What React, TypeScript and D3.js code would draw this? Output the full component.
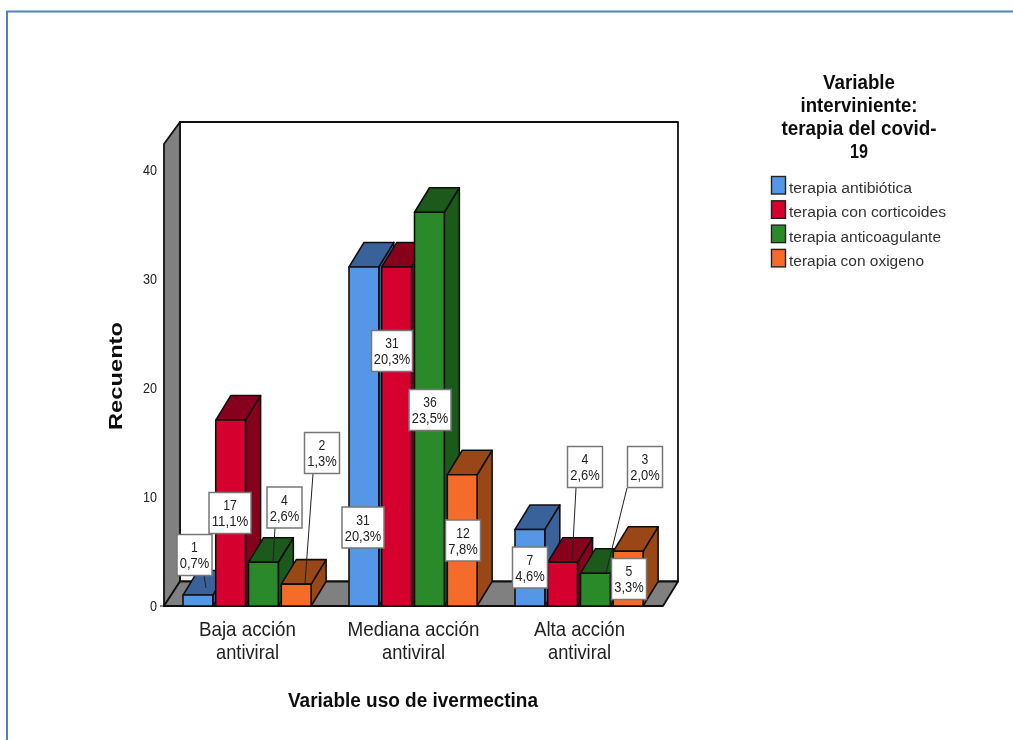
import React from "react";
import * as d3 from "d3";

const categories = ["Baja acción|antiviral", "Mediana acción|antiviral", "Alta acción|antiviral"];
const seriesNames = ["terapia antibiótica", "terapia con corticoides", "terapia anticoagulante", "terapia con oxigeno"];
const antibiotica = [1, 31, 7];
const corticoides = [17, 31, 4];
const anticoagulante = [4, 36, 3];
const oxigeno = [2, 12, 5];
const pctAntibiotica = ["0,7%", "20,3%", "4,6%"];
const pctCorticoides = ["11,1%", "20,3%", "2,6%"];
const pctAnticoagulante = ["2,6%", "23,5%", "2,0%"];
const pctOxigeno = ["1,3%", "7,8%", "3,3%"];
const yTicks = [0, 10, 20, 30, 40];
const legendTitle = ["Variable", "interviniente:", "terapia del covid-", "19"];

const seriesValues = [antibiotica, corticoides, anticoagulante, oxigeno];
const seriesPct = [pctAntibiotica, pctCorticoides, pctAnticoagulante, pctOxigeno];
const frontColors = ["#5596e6", "#d6002f", "#2a8a2c", "#f56c2a"];
const topColors = ["#386299", "#87001f", "#1a5a1c", "#994719"];
const sideColors = ["#386299", "#87001f", "#1a5a1c", "#994719"];

// label layout (annotation boxes placed by hand, as in the source chart)
type Lab = { cx: number; cy: number; w: number; leader?: [number, number, number, number] };
const labelLayout: Lab[][] = [
  [
    { cx: 194.5, cy: 555, w: 35, leader: [204, 575, 206, 588] },
    { cx: 230, cy: 513, w: 42 },
    { cx: 284.5, cy: 507.5, w: 35, leader: [275, 528, 273, 562] },
    { cx: 322, cy: 453, w: 35, leader: [313, 474, 305, 583] },
  ],
  [
    { cx: 363, cy: 527.5, w: 42 },
    { cx: 392, cy: 351, w: 41 },
    { cx: 430, cy: 410, w: 42 },
    { cx: 463, cy: 540.5, w: 35 },
  ],
  [
    { cx: 530, cy: 567.5, w: 35 },
    { cx: 585, cy: 467, w: 35, leader: [576, 488, 572, 562] },
    { cx: 645, cy: 467, w: 35, leader: [627, 488, 606, 573] },
    { cx: 629, cy: 579, w: 35 },
  ],
];

const W = 1013;
const H = 740;
const DX = 15;
const DY = 24.5;
const FONT = "'Liberation Sans', Arial, sans-serif";

const y = d3.scaleLinear().domain([0, 40]).range([606, 168.5]);
const yTick = d3.scaleLinear().domain([0, 40]).range([606, 170]);
const yTop = 144;
const x0 = d3.scaleBand<number>().domain([0, 1, 2]).range([164, 662]);
const x1 = d3.scaleBand<number>().domain([0, 1, 2, 3]).range([19, 147.1]).paddingInner(0.09).paddingOuter(0);

const pts = (p: number[][]) => p.map((q) => q.join(",")).join(" ");

const catWidths: Record<string, number> = {
  "Baja acción": 97,
  "Mediana acción": 132,
  "Alta acción": 91,
  antiviral: 63,
};
const legendTitleWidths = [72, 117, 155, 18];
const legendWidths = [123, 157, 152, 135];

function Bar({ g, s }: { g: number; s: number }) {
  const xl = x0(g)! + x1(s)!;
  const w = x1.bandwidth();
  const yt = y(seriesValues[s][g]);
  const yb = y(0);
  return (
    <g stroke="#111" strokeWidth={1.6} strokeLinejoin="round">
      <polygon fill={sideColors[s]} points={pts([[xl + w, yt], [xl + w + DX, yt - DY], [xl + w + DX, yb - DY], [xl + w, yb]])} />
      <polygon fill={topColors[s]} points={pts([[xl, yt], [xl + DX, yt - DY], [xl + w + DX, yt - DY], [xl + w, yt]])} />
      <rect x={xl} y={yt} width={w} height={yb - yt} fill={frontColors[s]} />
    </g>
  );
}

function Label({ g, s }: { g: number; s: number }) {
  const l = labelLayout[g][s];
  const h = 41;
  const v = seriesValues[s][g];
  const pct = seriesPct[s][g];
  return (
    <g>
      {l.leader && <line x1={l.leader[0]} y1={l.leader[1]} x2={l.leader[2]} y2={l.leader[3]} stroke="#222" strokeWidth={1} />}
      <rect x={l.cx - l.w / 2} y={l.cy - h / 2} width={l.w} height={h} fill="#fff" stroke="#777" strokeWidth={1.5} />
      <text x={l.cx} y={l.cy - 3} textAnchor="middle" fontSize={13.8} fill="#222" fontFamily={FONT} textLength={v >= 10 ? 13.5 : 6.8} lengthAdjust="spacingAndGlyphs">
        {v}
      </text>
      <text x={l.cx} y={l.cy + 13} textAnchor="middle" fontSize={13.8} fill="#222" fontFamily={FONT} textLength={pct.length > 4 ? 36.5 : 29.5} lengthAdjust="spacingAndGlyphs">
        {pct}
      </text>
    </g>
  );
}

export default function App() {
  const floorY = y(0);
  const backX0 = 180;
  const backX1 = 678;
  return (
    <svg width={W} height={H} viewBox={`0 0 ${W} ${H}`} style={{ position: "absolute", left: 0, top: 0, display: "block", background: "#fff" }}>
      <defs>
        <filter id="soft" x="0" y="0" width="100%" height="100%">
          <feGaussianBlur stdDeviation="0.45" />
        </filter>
      </defs>
      <g filter="url(#soft)">
        <rect width={W} height={H} fill="#fff" />
        <path d={`M7,${H} V11.5 H${W}`} fill="none" stroke="#4f81bd" strokeWidth={2} />

        <g stroke="#111" strokeWidth={1.8} strokeLinejoin="round">
          <rect x={backX0} y={yTop - 22} width={backX1 - backX0} height={floorY - DY - yTop + 22} fill="#fff" />
          <polygon fill="#808080" points={pts([[164, yTop], [backX0, yTop - 22], [backX0, floorY - DY], [164, floorY]])} />
          <polygon fill="#808080" points={pts([[164, floorY], [backX0, floorY - DY], [backX1, floorY - DY], [663, floorY]])} />
        </g>

        {yTicks.map((t) => (
          <g key={t}>
            {t === 0 && <line x1={160} x2={164} y1={yTick(t)} y2={yTick(t)} stroke="#111" />}
            <text x={157} y={yTick(t) + 4.5} textAnchor="end" fontSize={15.5} fill="#222" fontFamily={FONT} textLength={t === 0 ? 7 : 14} lengthAdjust="spacingAndGlyphs">
              {t}
            </text>
          </g>
        ))}
        <text transform="translate(122,376) rotate(-90)" textAnchor="middle" fontSize={18} fontWeight="bold" fill="#111" fontFamily={FONT} textLength={108} lengthAdjust="spacingAndGlyphs">
          Recuento
        </text>

        {categories.map((_, g) => seriesNames.map((_, s) => <Bar key={`${g}-${s}`} g={g} s={s} />))}
        {categories.map((_, g) => seriesNames.map((_, s) => <Label key={`${g}-${s}`} g={g} s={s} />))}

        {categories.map((c, g) => {
          const cx = x0(g)! + x0.bandwidth() / 2 + 0.5;
          return c.split("|").map((line, i) => (
            <text key={line + g} x={cx} y={636 + i * 23} textAnchor="middle" fontSize={21} fill="#222" fontFamily={FONT} textLength={catWidths[line]} lengthAdjust="spacingAndGlyphs">
              {line}
            </text>
          ));
        })}

        <text x={413} y={707} textAnchor="middle" fontSize={20} fontWeight="bold" fill="#111" fontFamily={FONT} textLength={250} lengthAdjust="spacingAndGlyphs">
          Variable uso de ivermectina
        </text>

        {legendTitle.map((t, i) => (
          <text key={t} x={859} y={88.5 + i * 23.2} textAnchor="middle" fontSize={20} fontWeight="bold" fill="#111" fontFamily={FONT} textLength={legendTitleWidths[i]} lengthAdjust="spacingAndGlyphs">
            {t}
          </text>
        ))}
        {seriesNames.map((n, i) => (
          <g key={n}>
            <rect x={771.5} y={176.5 + i * 24.3} width={14} height={17.5} fill={frontColors[i]} stroke="#222" strokeWidth={1.4} />
            <text x={789} y={193 + i * 24.3} fontSize={15.5} fill="#333" fontFamily={FONT} textLength={legendWidths[i]} lengthAdjust="spacingAndGlyphs">
              {n}
            </text>
          </g>
        ))}
      </g>
    </svg>
  );
}
